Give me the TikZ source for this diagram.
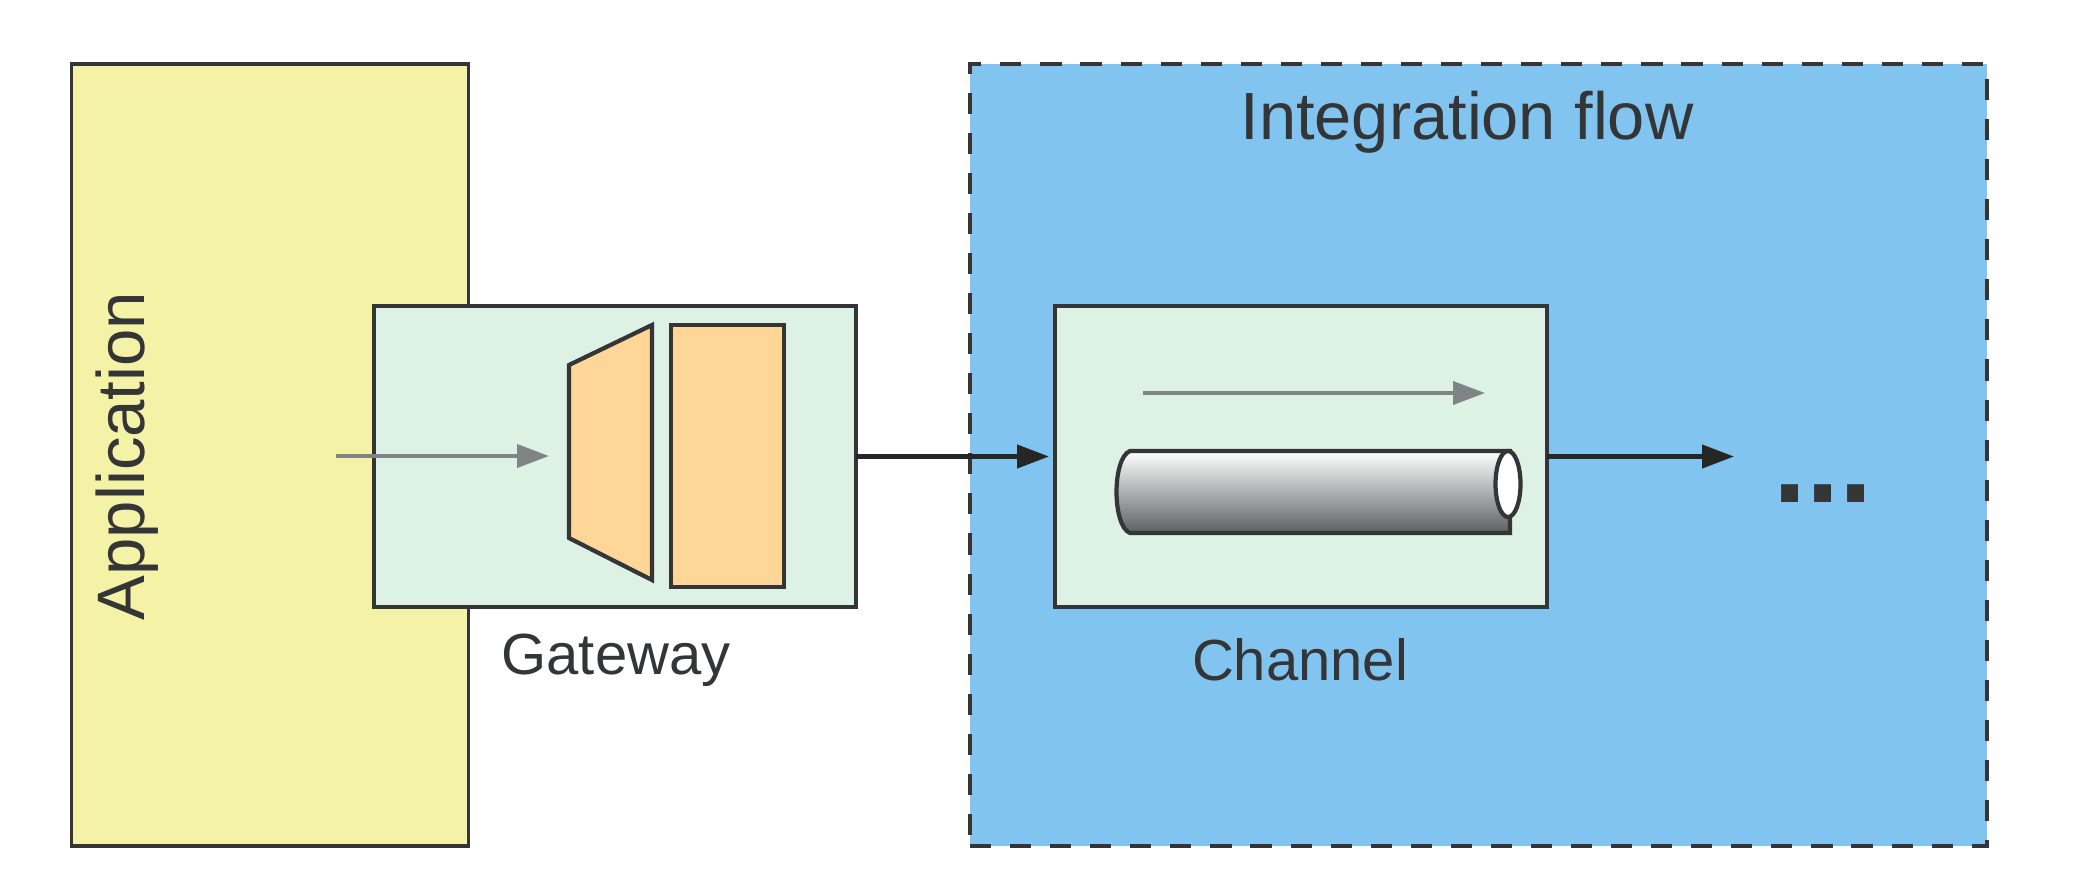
\documentclass[tikz,border=0pt]{standalone}
\usepackage{fontspec}
\setmainfont{Liberation Sans}
\usetikzlibrary{positioning,arrows.meta,shapes.geometric}
\definecolor{appyellow}{HTML}{F4F2A6}
\definecolor{flowblue}{HTML}{80C4EF}
\definecolor{boxgreen}{HTML}{DEF1E5}
\definecolor{partorange}{HTML}{FDD698}
\definecolor{inkdark}{HTML}{333536}
\definecolor{pipedark}{HTML}{5C6061}
\definecolor{flowgray}{HTML}{7F8584}

\begin{document}
\begin{tikzpicture}[
    panel/.style  ={draw=inkdark, line width=1.1pt, outer sep=0pt, inner sep=0pt},
    appbox/.style ={panel, fill=appyellow, minimum width=3.97cm, minimum height=7.82cm},
    flowbox/.style={panel, dash pattern=on 6pt off 5.4pt, fill=flowblue, minimum width=10.17cm, minimum height=7.82cm},
    innerbox/.style={panel, fill=boxgreen, minimum height=3.01cm},
    part/.style   ={draw=inkdark, line width=1.2pt, fill=partorange},
    caption/.style={text=inkdark, font=\fontsize{16.5}{18}\selectfont, inner sep=0pt},
    grayflow/.style={-{Triangle[length=3.2mm,width=2.3mm]}, line width=1.1pt, flowgray},
    link/.style   ={-{Triangle[length=3.2mm,width=2.3mm]}, line width=1.2pt, black!85},
  ]
  \useasboundingbox (0,0) rectangle (20.82,-8.74);
  % outer panels
  \node[appbox]  (application) at (2.70, -4.55)  {};
  \node[flowbox] (intflow)     at (14.785, -4.55) {};
  \node[caption, rotate=90, font=\fontsize{19.1}{21}\selectfont] (application-text) at (1.27, -4.56) {Application};
  \node[caption, font=\fontsize{19}{21}\selectfont] (intflow-text) at (14.67, -1.22) {Integration flow};
  % the two boxes on top
  \node[innerbox, minimum width=4.82cm] (gateway) at (6.15,  -4.565) {};
  \node[innerbox, minimum width=4.92cm] (channel) at (13.01, -4.565) {};
  \node[caption] (gateway-text) at (6.16,  -6.60) {Gateway};
  \node[caption] (channel-text) at (13.00, -6.60) {Channel};
  % gateway parts
  \draw[part] (5.69,-3.65) -- (6.52,-3.25) -- (6.52,-5.80) -- (5.69,-5.38) -- cycle;
  \node[part, minimum width=1.13cm, minimum height=2.62cm, inner sep=0pt, outer sep=0pt] (gateway-block) at (7.275, -4.56) {};
  % channel pipe
  \draw[inkdark, line width=1.2pt, top color=white, bottom color=pipedark]
    (15.10,-4.51) -- (11.30,-4.51) .. controls (11.12,-4.58) and (11.12,-5.26) .. (11.30,-5.33) -- (15.10,-5.33) -- cycle;
  \node[draw=inkdark, line width=1.2pt, fill=white, ellipse, minimum width=0.25cm, minimum height=0.66cm, inner sep=0pt] (channel-mouth) at (15.08, -4.84) {};
  % dots after the channel
  \node[text=inkdark, font=\fontsize{34}{36}\selectfont\bfseries, inner sep=0pt, anchor=base] (more) at (18.23, -5.02) {...};
  % arrows
  \coordinate (app-start)  at (3.36, -4.56);
  \coordinate (app-end)    at (5.49, -4.56);
  \coordinate (pipe-start) at (11.43, -3.93);
  \coordinate (pipe-end)   at (14.85, -3.93);
  \coordinate (next)       at (17.34, -4.565);
  \draw[grayflow] (app-start) -- (app-end);
  \draw[grayflow] (pipe-start) -- (pipe-end);
  \draw[link, shorten >=0.06cm] (gateway.east) -- (channel.west);
  \draw[link] (channel.east) -- (next);
\end{tikzpicture}
\end{document}
